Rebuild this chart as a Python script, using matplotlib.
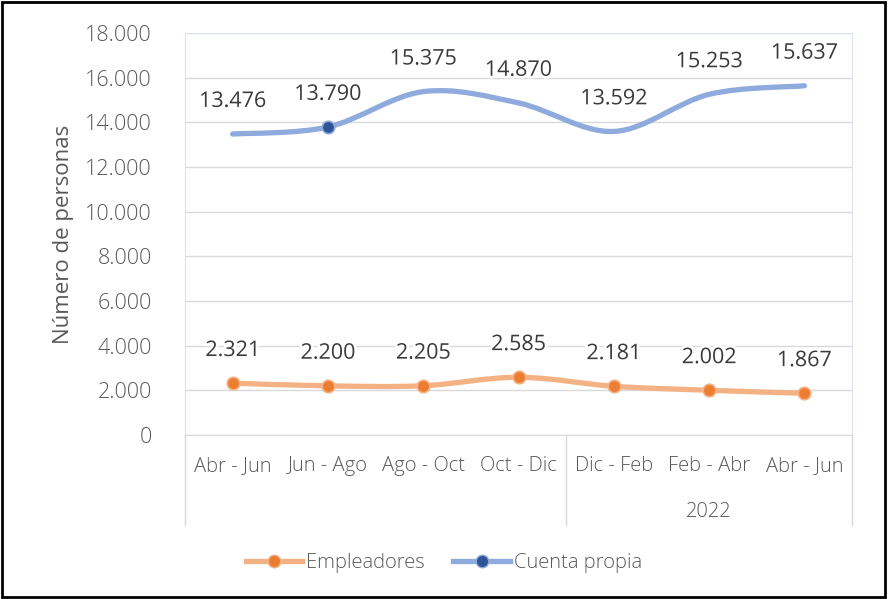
import matplotlib
matplotlib.use("Agg")
import matplotlib.pyplot as plt
import matplotlib.patheffects as pe
from matplotlib.path import Path
from matplotlib.patches import PathPatch, Rectangle
from matplotlib.lines import Line2D
from matplotlib.ticker import FuncFormatter
import numpy as np

# datos
periodos = ["Abr - Jun", "Jun - Ago", "Ago - Oct", "Oct - Dic",
            "Dic - Feb", "Feb - Abr", "Abr - Jun"]
anio = "2022"
empleadores = [2321, 2200, 2205, 2585, 2181, 2002, 1867]
cuenta_propia = [13476, 13790, 15375, 14870, 13592, 15253, 15637]

plt.rcParams['font.family'] = ['Open Sans', 'DejaVu Sans']
plt.rcParams['font.weight'] = 'light'
gris = '#595959'


def curva_suave(x, y):
    # curva tipo Excel "linea suavizada" (bezier por tramos)
    pts = np.column_stack([x, y]).astype(float)
    n = len(pts)
    verts = [pts[0]]
    codes = [Path.MOVETO]
    for i in range(n - 1):
        p0 = pts[i - 1] if i > 0 else pts[i]
        p1 = pts[i]
        p2 = pts[i + 1]
        p3 = pts[i + 2] if i + 2 < n else pts[i + 1]
        c1 = p1 + (p2 - p0) / 6.0
        c2 = p2 - (p3 - p1) / 6.0
        verts += [c1, c2, p2]
        codes += [Path.CURVE4] * 3
    return Path(verts, codes)


def miles(v, pos):
    return f"{int(v):,}".replace(",", ".")


fig = plt.figure(figsize=(8.88, 5.99), dpi=100)
ax = fig.add_axes([0.2083, 0.2738, 0.7512, 0.6711])

x = np.arange(len(periodos))
series = [
    (empleadores, '#F4B183', '#ED7D31', list(range(len(x)))),
    (cuenta_propia, '#8FAADC', '#2F5597', [1]),
]
for vals, c_linea, c_marca, cuales in series:
    ax.add_patch(PathPatch(curva_suave(x, vals), facecolor='none',
                           edgecolor=c_linea, lw=3.8, capstyle='round',
                           zorder=3))
    ax.plot(x[cuales], np.array(vals)[cuales], linestyle='none', marker='o',
            ms=9, mfc=c_marca, mec=c_linea, mew=1.2, zorder=4)
    for xi, v in zip(x, vals):
        ax.annotate(miles(v, None), (xi, v), xytext=(0, 23.5),
                    textcoords='offset points', ha='center', va='center',
                    fontsize=15.5, color='#3a3a3a', fontweight='normal',
                    zorder=5,
                    path_effects=[pe.withStroke(linewidth=4, foreground='white')])

ax.set_xlim(-0.5, len(periodos) - 0.5)
ax.set_ylim(0, 18000)
ax.set_yticks(np.arange(0, 18001, 2000))
ax.yaxis.set_major_formatter(FuncFormatter(miles))
ax.tick_params(axis='y', length=0, pad=24, labelsize=15.5, labelcolor=gris)
ax.set_xticks([])
ax.grid(axis='y', color='#D9D9D9', lw=1)
ax.set_axisbelow(True)
for s in ax.spines.values():
    s.set_color('#DAE3F3')
ax.spines['bottom'].set_color('#D9D9D9')
ax.set_ylabel("Número de personas", fontsize=16, color=gris, labelpad=8)

# eje de categorias en dos niveles
trans = ax.get_xaxis_transform()
for xs in [-0.5, 3.5, len(periodos) - 0.5]:
    ax.plot([xs, xs], [0, -0.224], transform=trans, color='#D9D9D9',
            lw=1, clip_on=False)
for xi, lab in zip(x, periodos):
    ax.text(xi, -0.078, lab, transform=trans, ha='center', va='center',
            fontsize=14.5, color=gris)
ax.text(5, -0.192, anio, transform=trans, ha='center', va='center',
        fontsize=14.5, color=gris)

handles = [
    Line2D([], [], color='#F4B183', lw=3.8, marker='o', ms=9,
           mfc='#ED7D31', mec='#F4B183'),
    Line2D([], [], color='#8FAADC', lw=3.8, marker='o', ms=9,
           mfc='#2F5597', mec='#8FAADC'),
]
fig.legend(handles, ["Empleadores", "Cuenta propia"], loc='center',
           bbox_to_anchor=(0.5, 0.06), ncol=2, frameon=False,
           fontsize=14.5, labelcolor=gris, handlelength=2.8,
           handletextpad=0.2, columnspacing=1.4)

fig.add_artist(Rectangle((0.002, 0.003), 0.995, 0.994,
                         transform=fig.transFigure, fill=False,
                         edgecolor='black', lw=2))

fig.savefig("out.png", dpi=100)
